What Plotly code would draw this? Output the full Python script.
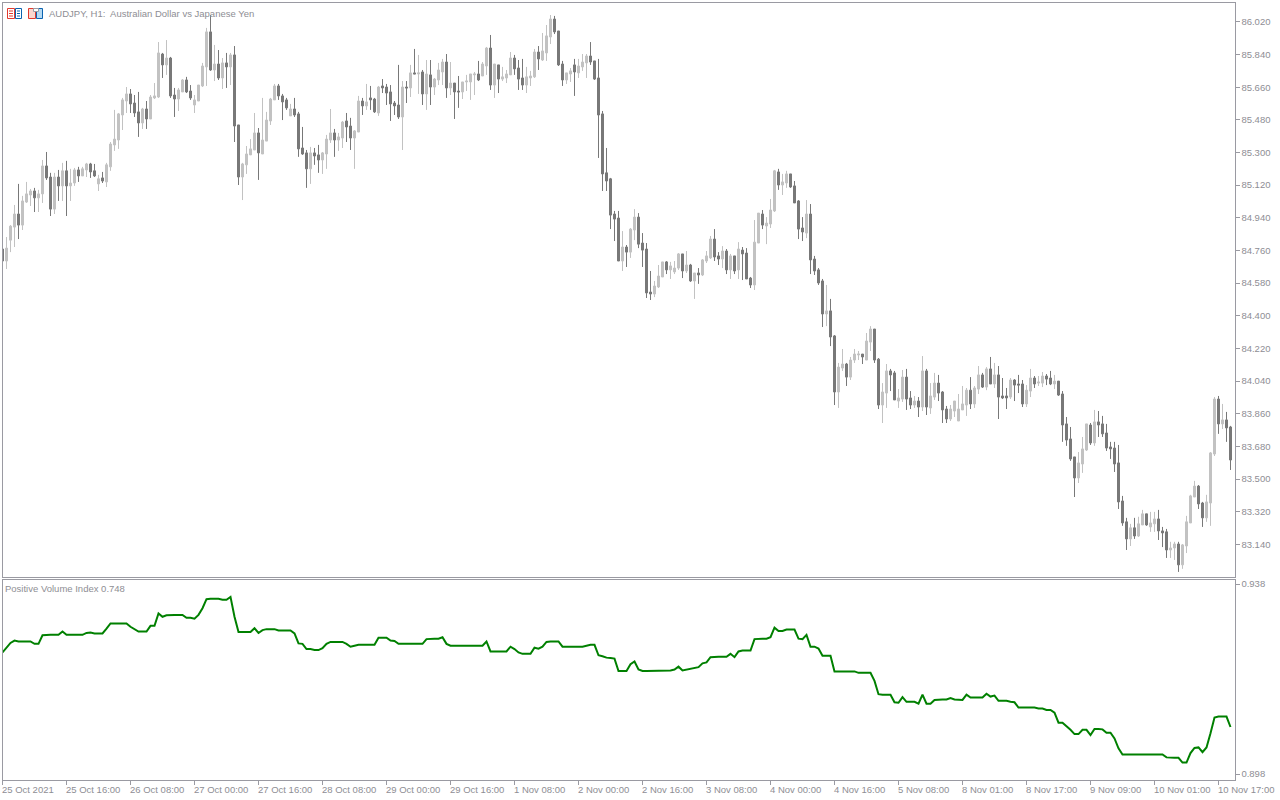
import plotly.graph_objects as go

chart_title = "AUDJPY, H1:  Australian Dollar vs Japanese Yen"
indicator_title = "Positive Volume Index 0.748"
time_labels = ["25 Oct 2021", "25 Oct 16:00", "26 Oct 08:00", "27 Oct 00:00", "27 Oct 16:00", "28 Oct 08:00", "29 Oct 00:00",
               "29 Oct 16:00", "1 Nov 08:00", "2 Nov 00:00", "2 Nov 16:00", "3 Nov 08:00", "4 Nov 00:00", "4 Nov 16:00",
               "5 Nov 08:00", "8 Nov 01:00", "8 Nov 17:00", "9 Nov 09:00", "10 Nov 01:00", "10 Nov 17:00"]
price_ticks = [83.14, 83.32, 83.50, 83.68, 83.86, 84.04, 84.22, 84.40, 84.58, 84.76, 84.94, 85.12, 85.30, 85.48, 85.66, 85.84, 86.02]
pvi_ticks = [0.898, 0.938]

opens = [
84.768,84.702,84.817,84.889,84.961,84.900,85.027,85.066,85.088,85.050,
85.072,85.226,85.165,84.988,85.165,85.116,85.199,85.116,85.132,85.204,
85.171,85.204,85.237,85.199,85.127,85.160,85.138,85.221,85.342,85.369,
85.507,85.584,85.623,85.573,85.524,85.463,85.540,85.485,85.601,85.606,
85.843,85.783,85.821,85.617,85.595,85.634,85.700,85.639,85.562,85.584,
85.667,85.772,85.965,85.755,85.788,85.711,85.794,85.772,85.838,85.452,
85.165,85.232,85.287,85.314,85.408,85.292,85.363,85.474,85.590,85.667,
85.612,85.590,85.502,85.540,85.513,85.325,85.298,85.210,85.298,85.287,
85.259,85.292,85.369,85.408,85.369,85.380,85.474,85.446,85.380,85.413,
85.584,85.557,85.601,85.595,85.518,85.667,85.661,85.634,85.573,85.562,
85.496,85.661,85.656,85.739,85.733,85.744,85.623,85.728,85.661,85.700,
85.744,85.799,85.656,85.683,85.639,85.634,85.689,85.689,85.728,85.733,
85.722,85.777,85.876,85.672,85.783,85.705,85.711,85.728,85.821,85.766,
85.711,85.672,85.711,85.717,85.854,85.810,85.849,85.937,86.036,85.970,
85.788,85.700,85.733,85.783,85.739,85.772,85.794,85.832,85.805,85.711,
85.513,85.188,85.155,84.961,84.939,84.702,84.779,84.751,84.873,84.944,
84.801,84.768,84.531,84.520,84.559,84.614,84.697,84.653,84.642,84.663,
84.741,84.647,84.680,84.592,84.636,84.625,84.702,84.719,84.823,84.730,
84.713,84.757,84.653,84.730,84.653,84.762,84.746,84.608,84.570,84.801,
84.961,84.895,84.906,84.978,85.193,85.121,85.132,85.182,85.116,85.033,
84.884,84.856,84.961,84.713,84.653,84.592,84.410,84.427,84.289,83.980,
84.112,84.134,84.062,84.156,84.184,84.189,84.156,84.255,84.327,84.161,
83.908,83.974,84.096,84.085,83.930,83.941,84.062,83.947,83.908,83.930,
83.897,84.096,83.892,83.952,84.029,83.980,83.886,83.831,83.875,83.820,
83.881,83.908,83.990,83.914,83.996,84.074,84.007,84.107,84.024,84.074,
83.958,83.958,83.952,84.046,84.024,84.024,83.914,83.985,84.057,84.029,
84.029,84.068,84.057,84.024,84.040,83.969,83.804,83.721,83.622,83.506,
83.583,83.660,83.798,83.699,83.815,83.804,83.754,83.677,83.671,83.589,
83.379,83.264,83.170,83.231,83.186,83.247,83.308,83.236,83.253,83.280,
83.214,83.209,83.109,83.120,83.142,83.027,83.131,83.258,83.401,83.461,
83.368,83.286,83.368,83.638,83.941,83.804,83.826,83.787]

highs = [
84.779,84.834,84.900,85.011,85.127,85.061,85.138,85.099,85.105,85.094,
85.259,85.303,85.188,85.188,85.204,85.243,85.254,85.210,85.215,85.221,
85.221,85.243,85.243,85.237,85.177,85.193,85.243,85.358,85.535,85.518,
85.601,85.661,85.650,85.617,85.634,85.546,85.584,85.617,85.683,85.909,
85.849,85.920,85.827,85.656,85.656,85.705,85.717,85.672,85.617,85.672,
85.794,85.987,86.058,85.893,85.865,85.821,85.849,85.849,85.887,85.452,
85.243,85.336,85.374,85.518,85.435,85.601,85.524,85.601,85.678,85.678,
85.623,85.601,85.568,85.601,85.524,85.441,85.314,85.331,85.325,85.342,
85.303,85.397,85.540,85.430,85.408,85.474,85.518,85.491,85.424,85.612,
85.601,85.678,85.667,85.601,85.667,85.705,85.678,85.672,85.584,85.783,
85.694,85.694,85.783,85.871,85.838,85.755,85.810,85.810,85.711,85.794,
85.816,85.843,85.799,85.683,85.722,85.689,85.728,85.733,85.744,85.805,
85.799,85.882,85.948,85.788,85.783,85.772,85.755,85.854,85.838,85.810,
85.816,85.772,85.750,85.871,85.887,85.959,86.003,86.058,86.053,85.970,
85.805,85.739,85.766,85.816,85.816,85.843,85.843,85.909,85.805,85.816,
85.529,85.325,85.160,84.978,84.978,84.867,84.790,84.884,84.988,84.966,
84.856,84.801,84.647,84.592,84.680,84.697,84.702,84.697,84.702,84.746,
84.741,84.757,84.686,84.636,84.663,84.713,84.757,84.840,84.878,84.751,
84.784,84.768,84.741,84.730,84.806,84.779,84.773,84.614,84.928,84.966,
84.983,84.944,85.044,85.204,85.210,85.182,85.199,85.182,85.143,85.038,
84.944,85.038,85.016,84.730,84.663,84.603,84.570,84.493,84.294,84.140,
84.217,84.140,84.173,84.217,84.206,84.189,84.305,84.343,84.327,84.167,
84.029,84.134,84.107,84.096,83.996,84.101,84.107,83.985,83.958,83.952,
84.178,84.107,84.029,84.085,84.074,83.985,83.903,83.908,83.930,83.969,
84.013,84.002,84.062,84.013,84.123,84.085,84.117,84.173,84.140,84.123,
84.057,84.002,84.057,84.051,84.074,84.046,84.018,84.107,84.068,84.068,
84.090,84.079,84.096,84.074,84.040,83.985,83.842,83.787,83.622,83.649,
83.732,83.804,83.809,83.881,83.875,83.848,83.804,83.705,83.705,83.688,
83.407,83.286,83.253,83.286,83.292,83.330,83.308,83.319,83.319,83.330,
83.236,83.225,83.154,83.154,83.154,83.142,83.297,83.413,83.490,83.467,
83.374,83.413,83.649,83.952,83.958,83.914,83.870,83.793]

lows = [
84.663,84.658,84.751,84.779,84.823,84.873,85.022,85.005,84.972,84.972,
85.022,85.149,84.950,84.961,85.033,85.033,84.950,85.033,85.116,85.138,
85.171,85.165,85.160,85.165,85.088,85.132,85.110,85.199,85.309,85.320,
85.424,85.518,85.518,85.496,85.386,85.430,85.430,85.485,85.595,85.601,
85.711,85.728,85.601,85.496,85.529,85.634,85.628,85.590,85.518,85.584,
85.661,85.667,85.750,85.694,85.700,85.650,85.656,85.672,85.358,85.121,
85.038,85.182,85.287,85.314,85.149,85.292,85.363,85.452,85.590,85.590,
85.479,85.535,85.502,85.496,85.276,85.287,85.105,85.127,85.232,85.188,
85.182,85.210,85.353,85.276,85.309,85.325,85.358,85.314,85.210,85.413,
85.507,85.535,85.535,85.518,85.502,85.628,85.562,85.474,85.507,85.485,
85.314,85.573,85.606,85.733,85.623,85.562,85.535,85.562,85.617,85.672,
85.672,85.601,85.617,85.485,85.546,85.595,85.639,85.590,85.617,85.694,
85.722,85.728,85.645,85.601,85.628,85.694,85.683,85.728,85.728,85.645,
85.645,85.628,85.667,85.711,85.755,85.805,85.805,85.898,85.953,85.777,
85.667,85.678,85.689,85.612,85.711,85.750,85.711,85.783,85.700,85.270,
85.088,85.088,84.878,84.812,84.702,84.647,84.669,84.719,84.817,84.773,
84.669,84.498,84.487,84.503,84.553,84.614,84.630,84.603,84.630,84.653,
84.608,84.636,84.587,84.493,84.576,84.619,84.691,84.713,84.702,84.680,
84.663,84.630,84.603,84.630,84.603,84.597,84.603,84.553,84.542,84.801,
84.878,84.795,84.884,84.972,85.094,85.066,85.105,85.105,85.022,84.823,
84.812,84.828,84.630,84.625,84.570,84.338,84.343,84.233,83.908,83.892,
84.096,84.013,84.046,84.140,84.156,84.134,84.156,84.206,84.140,83.886,
83.809,83.892,83.985,83.936,83.892,83.925,83.881,83.886,83.892,83.842,
83.875,83.853,83.859,83.936,83.930,83.809,83.809,83.820,83.842,83.820,
83.881,83.848,83.886,83.892,83.969,84.002,83.990,84.024,84.002,83.831,
83.941,83.886,83.941,83.930,83.974,83.897,83.897,83.952,84.002,84.013,
84.007,84.018,84.018,83.996,83.958,83.705,83.683,83.600,83.401,83.478,
83.534,83.655,83.688,83.683,83.732,83.732,83.655,83.611,83.539,83.335,
83.242,83.109,83.131,83.170,83.181,83.247,83.242,83.209,83.209,83.164,
83.125,83.065,83.065,83.054,82.988,83.005,83.092,83.258,83.401,83.335,
83.236,83.264,83.242,83.627,83.749,83.776,83.705,83.550]

closes = [
84.702,84.773,84.894,84.961,84.900,85.033,85.072,85.088,85.050,85.072,
85.226,85.160,84.988,85.165,85.116,85.199,85.116,85.132,85.204,85.171,
85.210,85.237,85.193,85.171,85.155,85.143,85.232,85.347,85.374,85.513,
85.590,85.623,85.568,85.518,85.463,85.540,85.485,85.606,85.612,85.849,
85.783,85.821,85.612,85.595,85.645,85.700,85.634,85.601,85.590,85.672,
85.777,85.965,85.755,85.788,85.711,85.794,85.772,85.838,85.446,85.165,
85.237,85.292,85.320,85.408,85.298,85.369,85.479,85.595,85.667,85.612,
85.579,85.546,85.540,85.507,85.320,85.292,85.210,85.298,85.281,85.259,
85.298,85.374,85.408,85.369,85.386,85.468,85.441,85.380,85.419,85.584,
85.557,85.579,85.590,85.524,85.661,85.656,85.628,85.568,85.557,85.496,
85.661,85.656,85.739,85.733,85.739,85.623,85.733,85.661,85.705,85.755,
85.799,85.656,85.683,85.634,85.634,85.689,85.694,85.733,85.733,85.700,
85.788,85.876,85.672,85.788,85.705,85.717,85.733,85.821,85.761,85.705,
85.672,85.717,85.722,85.854,85.816,85.860,85.943,86.036,85.965,85.783,
85.700,85.739,85.750,85.744,85.777,85.799,85.832,85.799,85.705,85.507,
85.182,85.143,84.955,84.933,84.702,84.779,84.751,84.878,84.944,84.795,
84.762,84.526,84.520,84.564,84.619,84.697,84.653,84.675,84.663,84.741,
84.647,84.680,84.592,84.636,84.625,84.708,84.730,84.823,84.724,84.713,
84.757,84.653,84.730,84.647,84.768,84.741,84.603,84.570,84.806,84.966,
84.900,84.911,84.983,85.199,85.121,85.138,85.182,85.110,85.022,84.878,
84.862,84.961,84.708,84.647,84.581,84.410,84.427,84.283,83.980,84.117,
84.134,84.062,84.156,84.189,84.189,84.173,84.261,84.327,84.156,83.908,
83.980,84.096,84.074,83.936,83.947,84.062,83.941,83.908,83.930,83.897,
84.096,83.897,83.958,84.029,83.974,83.881,83.831,83.886,83.930,83.886,
83.914,83.990,83.914,84.002,84.074,84.007,84.107,84.024,84.074,83.952,
83.947,83.947,84.046,84.018,84.018,83.914,83.990,84.057,84.024,84.035,
84.068,84.051,84.024,84.040,83.963,83.798,83.715,83.611,83.506,83.589,
83.666,83.804,83.699,83.815,83.798,83.749,83.671,83.666,83.583,83.374,
83.258,83.170,83.231,83.186,83.253,83.308,83.247,83.258,83.280,83.214,
83.203,83.109,83.120,83.142,83.027,83.137,83.264,83.407,83.461,83.363,
83.286,83.374,83.644,83.941,83.804,83.826,83.782,83.605]

pvi = [
.9236,.9247,.9256,.9261,.9259,.9259,.9259,.9259,.9254,.9254,
.9272,.9273,.9273,.9273,.9273,.9280,.9273,.9273,.9273,.9273,
.9273,.9277,.9278,.9276,.9276,.9276,.9286,.9297,.9297,.9297,
.9297,.9297,.9290,.9285,.9280,.9280,.9280,.9292,.9292,.9318,
.9311,.9314,.9315,.9315,.9315,.9315,.9309,.9309,.9307,.9315,
.9329,.9348,.9349,.9349,.9349,.9347,.9347,.9353,.9311,.9279,
.9279,.9279,.9279,.9287,.9277,.9283,.9285,.9285,.9285,.9282,
.9282,.9282,.9282,.9276,.9255,.9254,.9243,.9243,.9241,.9241,
.9245,.9254,.9258,.9258,.9258,.9258,.9254,.9248,.9250,.9252,
.9252,.9252,.9252,.9252,.9267,.9267,.9267,.9261,.9260,.9254,
.9254,.9254,.9254,.9254,.9254,.9254,.9264,.9265,.9265,.9265,
.9268,.9254,.9250,.9250,.9250,.9250,.9250,.9250,.9250,.9250,
.9250,.9259,.9238,.9238,.9238,.9238,.9238,.9248,.9243,.9236,
.9233,.9233,.9233,.9246,.9244,.9248,.9258,.9259,.9259,.9259,
.9248,.9248,.9248,.9248,.9248,.9248,.9250,.9252,.9252,.9230,
.9228,.9225,.9224,.9223,.9197,.9197,.9197,.9211,.9217,.9200,
.9197,.9197,.9197,.9197,.9197,.9197,.9197,.9198,.9200,.9206,
.9198,.9200,.9201,.9203,.9205,.9213,.9215,.9226,.9227,.9227,
.9227,.9227,.9233,.9226,.9238,.9240,.9240,.9240,.9264,.9265,
.9265,.9265,.9268,.9288,.9281,.9281,.9284,.9284,.9284,.9265,
.9264,.9273,.9248,.9248,.9244,.9229,.9229,.9229,.9196,.9196,
.9196,.9196,.9196,.9196,.9193,.9193,.9193,.9193,.9176,.9148,
.9147,.9147,.9147,.9131,.9130,.9142,.9132,.9132,.9132,.9128,
.9147,.9128,.9128,.9136,.9137,.9137,.9137,.9140,.9137,.9136,
.9136,.9147,.9141,.9141,.9141,.9141,.9149,.9143,.9145,.9134,
.9134,.9134,.9132,.9131,.9120,.9120,.9120,.9120,.9120,.9118,
.9118,.9115,.9115,.9109,.9088,.9088,.9081,.9073,.9064,.9064,
.9073,.9073,.9062,.9075,.9075,.9074,.9067,.9067,.9055,.9034,
.9021,.9021,.9021,.9021,.9021,.9021,.9021,.9021,.9021,.9021,
.9021,.9015,.9014,.9014,.9014,.9004,.9004,.9024,.9035,.9036,
.9026,.9036,.9066,.9099,.9101,.9101,.9101,.9079]

bars = list(range(len(opens)))
time_ticks = bars[::16]

GRAY = "#8e8e94"
FRAME = "#9a9aa2"
DOWN = "#787878"
UP = "#c2c2c2"
FONT = "Liberation Sans"
TEXT_SIZE = 9.5

fig = go.Figure()
fig.add_trace(go.Candlestick(
    x=bars, open=opens, high=highs, low=lows, close=closes, xaxis="x", yaxis="y",
    increasing=dict(line=dict(color=UP, width=1), fillcolor=UP),
    decreasing=dict(line=dict(color=DOWN, width=1), fillcolor=DOWN),
    whiskerwidth=0, showlegend=False))
fig.add_trace(go.Scatter(x=bars, y=pvi, mode="lines", xaxis="x2", yaxis="y2",
                         line=dict(color="#008000", width=2), showlegend=False))


def px(x):
    return x / 1280


def py(y):
    return 1 - y / 800


def box(x0, y0, x1, y1, color, fill="rgba(0,0,0,0)"):
    return dict(type="rect", xref="paper", yref="paper", x0=px(x0), x1=px(x1), y0=py(y0), y1=py(y1),
                line=dict(color=color, width=1), fillcolor=fill, layer="above")


def dash(x0, x1, y, color):
    return dict(type="line", xref="paper", yref="paper", x0=px(x0), x1=px(x1), y0=py(y), y1=py(y),
                line=dict(color=color, width=1), layer="above")


RED = "#e2392d"
BLUE = "#0b63b0"
shapes = [
    box(7.5, 8.5, 14.5, 18.5, RED), box(15.5, 8.5, 21.5, 18.5, BLUE),
    dash(9, 13, 11, RED), dash(9, 13, 13.5, RED), dash(9, 13, 16, RED),
    dash(17, 20, 11, BLUE), dash(17, 20, 13.5, BLUE), dash(17, 20, 16, BLUE),
    box(28.5, 8.5, 35.5, 18.5, RED, "#fbd6cf"), box(36.5, 8.5, 42.5, 18.5, BLUE, "#b5d9f2"),
    box(33.5, 8.5, 38.5, 11.5, "#9a9aa2", "#ffffff"),
]

annotations = [
    dict(text=chart_title, xref="paper", yref="paper", x=px(48), y=py(14), xanchor="left", yanchor="middle",
         showarrow=False, font=dict(family=FONT, size=TEXT_SIZE, color=GRAY), borderpad=0),
    dict(text=indicator_title, xref="paper", yref="paper", x=px(4), y=py(588), xanchor="left", yanchor="middle",
         showarrow=False, font=dict(family=FONT, size=TEXT_SIZE, color=GRAY), borderpad=0),
]
for tick, label in zip(time_ticks, time_labels):
    annotations.append(dict(text=label, xref="x2", yref="paper", x=tick, y=py(789), xanchor="left", yanchor="middle",
                            showarrow=False, font=dict(family=FONT, size=TEXT_SIZE, color=GRAY), borderpad=0, xshift=-2))

x_range = [0, 308]
axis = dict(showgrid=False, zeroline=False, showline=True, linecolor=FRAME, linewidth=1, mirror=True)
fig.update_layout(
    width=1280, height=800, margin=dict(l=0, r=0, t=0, b=0),
    paper_bgcolor="white", plot_bgcolor="white",
    xaxis=dict(domain=[px(2.5), px(1234.5)], range=x_range, anchor="y", showticklabels=False, ticks="",
               rangeslider=dict(visible=False), **axis),
    yaxis=dict(domain=[py(577), py(2.5)], range=[82.960, 86.127], anchor="x", side="right", tickvals=price_ticks,
               tickformat=".3f", ticks="outside", ticklen=4, tickcolor=FRAME,
               tickfont=dict(family=FONT, size=TEXT_SIZE, color=GRAY), **axis),
    xaxis2=dict(domain=[px(2.5), px(1234.5)], range=x_range, anchor="y2", showticklabels=False, ticks="outside",
                ticklen=4, tickcolor=FRAME, tickvals=time_ticks, **axis),
    yaxis2=dict(domain=[py(780), py(579.5)], range=[0.89674, 0.93895], anchor="x2", side="right", tickvals=pvi_ticks,
                tickformat=".3f", ticks="outside", ticklen=4, tickcolor=FRAME,
                tickfont=dict(family=FONT, size=TEXT_SIZE, color=GRAY), **axis),
    shapes=shapes, annotations=annotations, boxgap=0.2857,
    font=dict(family=FONT),
)

fig.write_html("out.html", post_script="document.body.style.margin='0';", config=dict(displayModeBar=False))
